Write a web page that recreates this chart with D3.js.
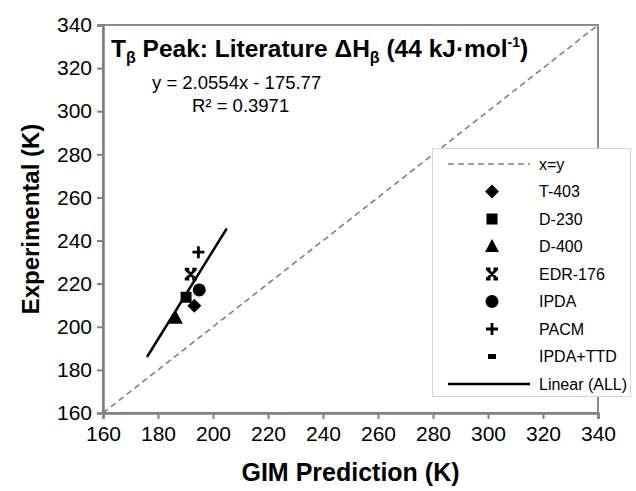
<!DOCTYPE html>
<html>
<head>
<meta charset="utf-8">
<script src="https://cdn.jsdelivr.net/npm/d3@7"></script>
<style>
  body { margin: 0; background: #fff; }
  svg { display: block; font-family: "Liberation Sans", Arial, sans-serif; }
</style>
</head>
<body>
<div id="chart"></div>
<script>
// Data
const seriesNames = ["T-403", "D-230", "D-400", "EDR-176", "IPDA", "PACM", "IPDA+TTD"];
const gimPrediction = [193.2, 190.2, 186.5, 191.9, 195.0, 194.7, null];
const experimental = [209.8, 213.7, 204.0, 224.4, 217.1, 234.6, null];
const markerTypes = ["diamond", "square", "triangle", "cross", "circle", "plus", "dash"];
const fitSlope = 2.0554;
const fitIntercept = -175.77;
const fitRange = [176, 205];
const axisTicks = [160, 180, 200, 220, 240, 260, 280, 300, 320, 340];

const width = 636, height = 491;
const margin = { top: 25, right: 38, bottom: 78, left: 103 };

const svg = d3.select("#chart").append("svg")
  .attr("width", width)
  .attr("height", height);

const x = d3.scaleLinear().domain([160, 340]).range([margin.left, width - margin.right]);
const y = d3.scaleLinear().domain([160, 340]).range([height - margin.bottom, margin.top]);

// plot frame
svg.append("rect")
  .attr("x", x(160)).attr("y", y(340))
  .attr("width", x(340) - x(160)).attr("height", y(160) - y(340))
  .attr("fill", "none")
  .attr("stroke", "#8c8c8c")
  .attr("stroke-width", 2);

// axes
svg.append("g")
  .attr("transform", `translate(0,${y(160)})`)
  .call(d3.axisBottom(x).tickValues(axisTicks).tickSize(6).tickPadding(7));
svg.append("g")
  .attr("transform", `translate(${x(160)},0)`)
  .call(d3.axisLeft(y).tickValues(axisTicks).tickSize(6).tickPadding(5));

svg.selectAll(".domain").attr("stroke", "#7f7f7f").attr("stroke-width", 2.5);
svg.selectAll(".tick line").attr("stroke", "#7f7f7f").attr("stroke-width", 2);
svg.selectAll(".tick text")
  .attr("fill", "#000")
  .attr("font-size", "21px")
  .attr("font-family", "'Liberation Sans', Arial, sans-serif");

// axis titles
svg.append("text")
  .attr("x", (x(160) + x(340)) / 2)
  .attr("y", 481)
  .attr("text-anchor", "middle")
  .attr("font-size", "25px")
  .attr("font-weight", "bold")
  .text("GIM Prediction (K)");

svg.append("text")
  .attr("transform", `translate(39,${(y(160) + y(340)) / 2}) rotate(-90)`)
  .attr("text-anchor", "middle")
  .attr("font-size", "24px")
  .attr("font-weight", "bold")
  .text("Experimental (K)");

// x = y reference
svg.append("line")
  .attr("x1", x(160)).attr("y1", y(160))
  .attr("x2", x(340)).attr("y2", y(340))
  .attr("stroke", "#808080")
  .attr("stroke-width", 1.6)
  .attr("stroke-dasharray", "6,4");

// linear fit
svg.append("line")
  .attr("x1", x(fitRange[0])).attr("y1", y(fitSlope * fitRange[0] + fitIntercept))
  .attr("x2", x(fitRange[1])).attr("y2", y(fitSlope * fitRange[1] + fitIntercept))
  .attr("stroke", "#000")
  .attr("stroke-width", 2.5);

function drawMarker(g, type) {
  if (type === "diamond") {
    g.append("path").attr("d", "M0,-7L7,0L0,7L-7,0Z").attr("fill", "#000");
  } else if (type === "square") {
    g.append("rect").attr("x", -5.5).attr("y", -5.5).attr("width", 11).attr("height", 11).attr("fill", "#000");
  } else if (type === "triangle") {
    g.append("path").attr("d", "M0,-7.5L7,5.5L-7,5.5Z").attr("fill", "#000");
  } else if (type === "cross") {
    g.append("path")
      .attr("d", "M-4.5,-4.5L4.5,4.5M4.5,-4.5L-4.5,4.5M-6,-5H-1.5M1.5,-5H6M-6,5H-1.5M1.5,5H6")
      .attr("stroke", "#000").attr("stroke-width", 2.8).attr("fill", "none");
  } else if (type === "circle") {
    g.append("circle").attr("r", 6.5).attr("fill", "#000");
  } else if (type === "plus") {
    g.append("path").attr("d", "M-6,0H6M0,-6V6")
      .attr("stroke", "#000").attr("stroke-width", 2.8);
  } else if (type === "dash") {
    g.append("rect").attr("x", -4).attr("y", -2.5).attr("width", 8).attr("height", 5).attr("fill", "#000");
  }
}

// data points
seriesNames.forEach((name, i) => {
  if (gimPrediction[i] == null) return;
  const g = svg.append("g")
    .attr("transform", `translate(${x(gimPrediction[i])},${y(experimental[i])})`);
  drawMarker(g, markerTypes[i]);
});

// title
const title = svg.append("text")
  .attr("x", 111)
  .attr("y", 57)
  .attr("font-size", "24.5px")
  .attr("font-weight", "bold");
title.append("tspan").text("T");
title.append("tspan").attr("font-size", "16px").attr("dy", 6).text("β");
title.append("tspan").attr("dy", -6).text(" Peak: Literature ΔH");
title.append("tspan").attr("font-size", "16px").attr("dy", 6).text("β");
title.append("tspan").attr("dy", -6).text(" (44 kJ·mol");
title.append("tspan").attr("font-size", "14px").attr("dy", -10).text("-1");
title.append("tspan").attr("dy", 10).text(")");

// equation
svg.append("text")
  .attr("x", 152).attr("y", 89)
  .attr("font-size", "18.5px")
  .text(`y = ${fitSlope}x - ${Math.abs(fitIntercept)}`);
svg.append("text")
  .attr("x", 192).attr("y", 112)
  .attr("font-size", "18.5px")
  .text("R² = 0.3971");

// legend
const legend = svg.append("g");
legend.append("rect")
  .attr("x", 432.5).attr("y", 148.5)
  .attr("width", 198).attr("height", 248)
  .attr("fill", "#fff")
  .attr("stroke", "#d4d4d4")
  .attr("stroke-width", 1);

const legendItems = ["x=y"].concat(seriesNames, ["Linear (ALL)"]);
const legendY = d3.scalePoint().domain(legendItems).range([164, 384]);

legendItems.forEach((name, i) => {
  const ly = legendY(name);
  if (i === 0) {
    legend.append("line")
      .attr("x1", 448).attr("x2", 530).attr("y1", ly).attr("y2", ly)
      .attr("stroke", "#808080").attr("stroke-width", 1.6).attr("stroke-dasharray", "6,4");
  } else if (i === legendItems.length - 1) {
    legend.append("line")
      .attr("x1", 448).attr("x2", 530).attr("y1", ly).attr("y2", ly)
      .attr("stroke", "#000").attr("stroke-width", 2.5);
  } else {
    const g = legend.append("g").attr("transform", `translate(492,${ly})`);
    drawMarker(g, markerTypes[i - 1]);
  }
  legend.append("text")
    .attr("x", 539).attr("y", ly)
    .attr("dy", "0.35em")
    .attr("font-size", "16px")
    .text(name);
});
</script>
</body>
</html>
